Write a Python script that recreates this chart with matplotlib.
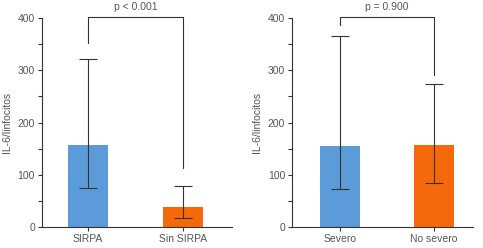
import numpy as np
import matplotlib.pyplot as plt
from matplotlib.ticker import MultipleLocator

plt.rcParams['font.family'] = ['Liberation Sans', 'DejaVu Sans']

# Datos
grupos_1 = ['SIRPA', 'Sin SIRPA']
medias_1 = [156, 38]
inferior_1 = [75, 16]
superior_1 = [321, 79]
p_1 = 'p < 0.001'
patas_1 = [352, 112]

grupos_2 = ['Severo', 'No severo']
medias_2 = [155, 156]
inferior_2 = [73, 83]
superior_2 = [367, 273]
p_2 = 'p = 0.900'
patas_2 = [388, 292]

colores = ['#5B9BD9', '#F46A0A']
gris = '#333333'
texto = '#555555'

fig = plt.figure(figsize=(4.83, 2.48), dpi=100)
ax1 = fig.add_axes([0.087, 0.086, 0.393, 0.840])
ax2 = fig.add_axes([0.605, 0.086, 0.374, 0.840])


def panel(ax, grupos, medias, inf, sup, p, patas, xlim):
    x = np.arange(len(grupos))
    medias = np.array(medias)
    yerr = [medias - np.array(inf), np.array(sup) - medias]
    ax.bar(x, medias, width=0.42, color=colores, zorder=2)
    ax.errorbar(x, medias, yerr=yerr, fmt='none', ecolor=gris, elinewidth=0.8,
                capsize=6.5, capthick=0.8, zorder=3)
    # corchete de significación
    top = 402
    ax.plot([x[0], x[0], x[1], x[1]], [patas[0], top, top, patas[1]],
            color=gris, lw=0.8, clip_on=False, zorder=4)
    ax.text((x[0] + x[1]) / 2, 421, p, ha='center', va='center',
            fontsize=7.5, color=texto, clip_on=False)
    ax.set_xlim(*xlim)
    ax.set_ylim(0, 400)
    ax.set_xticks(x)
    ax.set_xticklabels(grupos)
    ax.yaxis.set_major_locator(MultipleLocator(100))
    ax.yaxis.set_minor_locator(MultipleLocator(50))
    ax.set_ylabel('IL-6/linfocitos', fontsize=7.5, color=texto, labelpad=4)
    for s in ['top', 'right']:
        ax.spines[s].set_visible(False)
    for s in ['left', 'bottom']:
        ax.spines[s].set_color(gris)
        ax.spines[s].set_linewidth(0.8)
    ax.tick_params(axis='both', which='major', length=3, width=0.8, color=gris,
                   labelsize=7.5, labelcolor=texto, pad=2)
    ax.tick_params(axis='y', which='minor', length=3, width=0.8, color=gris)


panel(ax1, grupos_1, medias_1, inferior_1, superior_1, p_1, patas_1, (-0.484, 1.516))
panel(ax2, grupos_2, medias_2, inferior_2, superior_2, p_2, patas_2, (-0.505, 1.41))

fig.savefig('out.png', dpi=100)
